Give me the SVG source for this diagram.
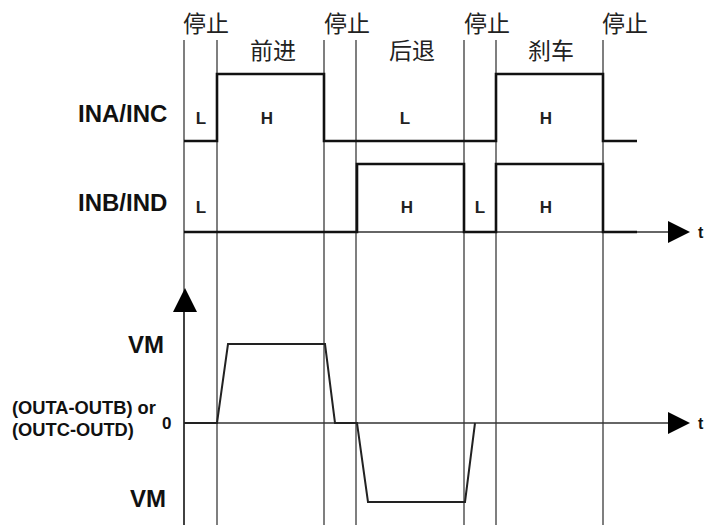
<svg xmlns="http://www.w3.org/2000/svg" width="705" height="525" viewBox="0 0 705 525">
<style>
.grid{stroke:#555;stroke-width:1.5;fill:none}
.sig{stroke:#111;stroke-width:2.6;fill:none;stroke-linejoin:miter}
.wave{stroke:#222;stroke-width:2;fill:none}
.axis{stroke:#333;stroke-width:1.6;fill:none}
.cn{font-family:"Noto Sans CJK SC","Noto Sans CJK JP",sans-serif;font-size:23px;fill:#222}
.lab{font-family:"Liberation Sans",Arial,sans-serif;font-weight:bold;fill:#111}
.hl{font-family:"Liberation Sans",Arial,sans-serif;font-weight:bold;font-size:17px;fill:#222;text-anchor:middle}
</style>
<rect width="705" height="525" fill="#fff"/>
<g id="grid">
<line class="grid" x1="184" y1="40" x2="184" y2="525"/>
<line class="grid" x1="217" y1="40" x2="217" y2="525"/>
<line class="grid" x1="324" y1="40" x2="324" y2="525"/>
<line class="grid" x1="356" y1="40" x2="356" y2="525"/>
<line class="grid" x1="464" y1="40" x2="464" y2="525"/>
<line class="grid" x1="496" y1="40" x2="496" y2="525"/>
<line class="grid" x1="603" y1="40" x2="603" y2="525"/>
</g>
<g id="phase-labels">
<text class="cn" x="183" y="32">停止</text>
<text class="cn" x="324" y="32">停止</text>
<text class="cn" x="464" y="32">停止</text>
<text class="cn" x="602" y="32">停止</text>
<text class="cn" x="250" y="59">前进</text>
<text class="cn" x="389" y="59">后退</text>
<text class="cn" x="528" y="59">刹车</text>
</g>
<g id="ina">
<text class="lab" x="78" y="122" font-size="24">INA/INC</text>
<polyline class="sig" points="184,141 217,141 217,74 324,74 324,141 496,141 496,74 603,74 603,141 637,141"/>
<text class="hl" x="201" y="124">L</text>
<text class="hl" x="267" y="124">H</text>
<text class="hl" x="405" y="124">L</text>
<text class="hl" x="546" y="124">H</text>
</g>
<g id="inb">
<text class="lab" x="78" y="211" font-size="24">INB/IND</text>
<line class="axis" x1="184" y1="232" x2="670" y2="232"/>
<polyline class="sig" points="184,232 357,232 357,164 464,164 464,232 496,232 496,164 603,164 603,232 637,232"/>
<polygon points="668,221 690,232 668,243" fill="#000"/>
<text class="lab" x="698" y="238" font-size="16">t</text>
<text class="hl" x="201" y="213">L</text>
<text class="hl" x="407" y="213">H</text>
<text class="hl" x="480" y="213">L</text>
<text class="hl" x="546" y="213">H</text>
</g>
<g id="out">
<line class="axis" x1="184" y1="300" x2="184" y2="525"/>
<polygon points="173,312 197,312 185,288" fill="#000"/>
<line class="axis" x1="184" y1="423" x2="670" y2="423"/>
<polygon points="668,412 690,423 668,434" fill="#000"/>
<text class="lab" x="698" y="429" font-size="16">t</text>
<polyline class="wave" points="184,423 217,423 228,344 325,344 335,423 357,423 368,502 465,502 475,423"/>
<text class="lab" x="128" y="353" font-size="24">VM</text>
<text class="lab" x="130" y="507" font-size="24">VM</text>
<text class="lab" x="12" y="414" font-size="18.3">(OUTA-OUTB) or</text>
<text class="lab" x="12" y="436" font-size="18.3">(OUTC-OUTD)</text>
<text class="lab" x="162" y="429" font-size="17">0</text>
</g>
</svg>
